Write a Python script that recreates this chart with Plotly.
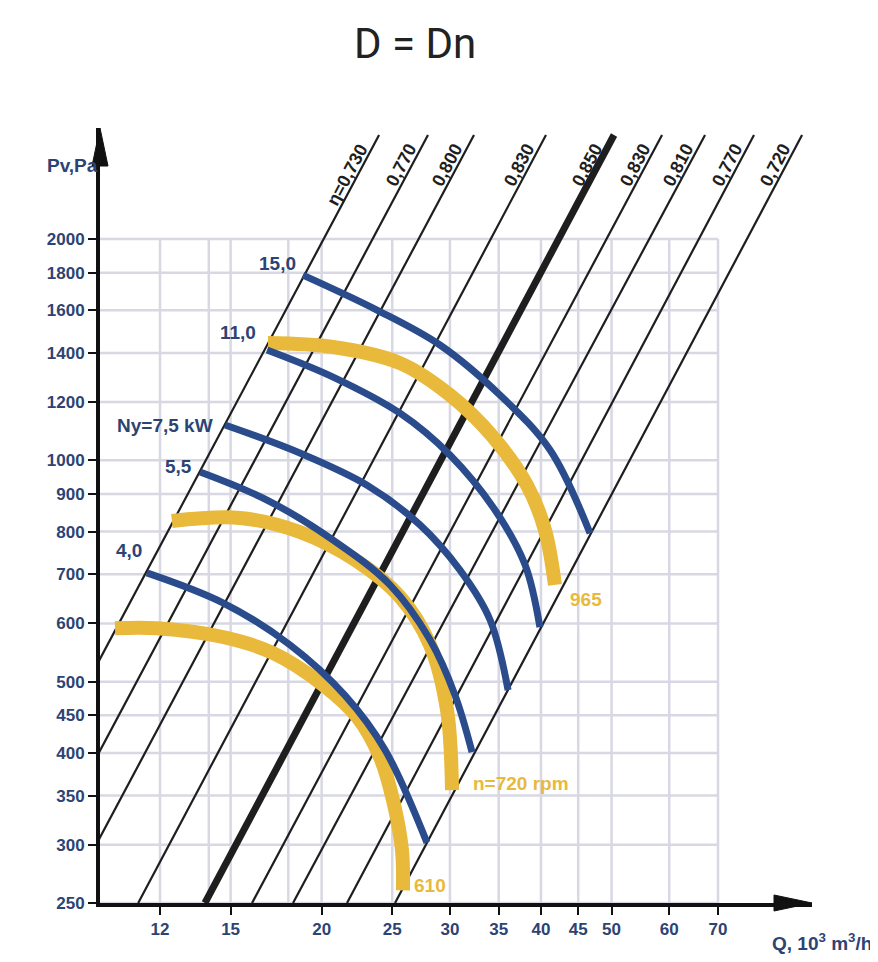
import math
import plotly.graph_objects as go

# ---------------- data ----------------
x_ticks = [12, 15, 20, 25, 30, 35, 40, 45, 50, 60, 70]
x_grid = [12, 14, 15, 18, 20, 25, 30, 35, 40, 45, 50, 60, 70]
y_ticks = [250, 300, 350, 400, 450, 500, 600, 700, 800, 900, 1000, 1200, 1400, 1600, 1800, 2000]

eff_labels = ["η=0,730", "0,770", "0,800", "0,830", "0,850", "0,830", "0,810", "0,770", "0,720"]
eff_q_at_250 = [6.58, 7.68, 8.89, 11.20, 13.83, 16.05, 18.27, 21.67, 25.22]
eff_q_at_2770 = [23.98, 27.99, 32.37, 40.64, 50.39, 58.65, 67.19, 78.43, 91.3]

# power curves (kW)
p150_q = [18.85, 23.82, 29.07, 35.13, 41.17, 46.71]
p150_pv = [1786, 1601, 1435, 1227, 1033, 796]
p110_q = [16.83, 20.74, 25.62, 30.0, 34.59, 38.04, 39.87]
p110_pv = [1413, 1298, 1159, 1017, 856, 721, 593]
p75_q = [14.74, 18.67, 23.09, 27.29, 30.97, 34.05, 36.05]
p75_pv = [1117, 1023, 925, 817, 709, 607, 487]
p55_q = [13.62, 16.83, 20.74, 24.82, 28.17, 30.49, 32.17]
p55_pv = [964, 883, 779, 677, 570, 479, 401]
p40_q = [11.51, 14.64, 18.10, 21.53, 24.43, 27.90]
p40_pv = [703, 640, 561, 479, 404, 302]

# speed curves (rpm)
n965_q = [16.88, 20.74, 25.62, 30.0, 34.38, 38.28, 40.51, 41.81]
n965_pv = [1444, 1426, 1356, 1227, 1076, 925, 804, 677]
n720_q = [12.46, 15.45, 18.67, 22.23, 25.62, 28.17, 29.72, 30.20]
n720_pv = [827, 835, 799, 732, 652, 561, 458, 356]
n610_q = [10.41, 11.89, 14.64, 17.15, 20.09, 22.37, 24.05, 25.06, 25.78, 25.86]
n610_pv = [591, 591, 575, 547, 495, 448, 395, 345, 295, 260]

power_curves = [("15,0", p150_q, p150_pv, -5, 12), ("11,0", p110_q, p110_pv, -9, 17),
                ("Ny=7,5 kW", p75_q, p75_pv, -10, 0), ("5,5", p55_q, p55_pv, -6, 6),
                ("4,0", p40_q, p40_pv, -3, 22)]
speed_curves = [("965", n965_q, n965_pv, 13, -15), ("n=720 rpm", n720_q, n720_pv, 19, 7),
                ("610", n610_q, n610_pv, 9, 5)]

# ---------------- styles ----------------
NAVY = "#2d4373"
BLUE = "#2b4c8c"
YELLOW = "#e9b93c"
GRID = "#d8d8e4"
FONT = "Liberation Sans Narrow, Liberation Sans, Arial, sans-serif"

X_RANGE = [0.9968, 1.9741]
Y_RANGE = [math.log10(250), 3.452]

fig = go.Figure()

# efficiency lines
for lab, qa, qb in zip(eff_labels, eff_q_at_250, eff_q_at_2770):
    thick = lab == "0,850"
    fig.add_trace(go.Scatter(x=[qa, qb], y=[250, 2770], mode="lines",
                             line=dict(color="#1e1e1e", width=7 if thick else 2.2),
                             hoverinfo="skip", showlegend=False))
    t = (math.log10(2744) - math.log10(250)) / (math.log10(2770) - math.log10(250))
    ql = 10 ** (math.log10(qa) + t * (math.log10(qb) - math.log10(qa)))
    fig.add_annotation(x=math.log10(ql), y=math.log10(2744), text=lab, showarrow=False,
                       textangle=-62, xanchor="right", yanchor="top", xshift=-3,
                       font=dict(family=FONT, size=18, color="#1e1e1e", weight="bold"))

for lab, q, pv, xs, ys in speed_curves:
    fig.add_trace(go.Scatter(x=q, y=pv, mode="lines", line=dict(color=YELLOW, width=14, shape="spline"),
                             hoverinfo="skip", showlegend=False))
    fig.add_annotation(x=math.log10(q[-1]), y=math.log10(pv[-1]), text=lab, showarrow=False,
                       xanchor="left", yanchor="middle", xshift=xs, yshift=ys,
                       font=dict(family=FONT, size=19, color=YELLOW, weight="bold"))

for lab, q, pv, xs, ys in power_curves:
    fig.add_trace(go.Scatter(x=q, y=pv, mode="lines", line=dict(color=BLUE, width=7, shape="spline"),
                             hoverinfo="skip", showlegend=False))
    fig.add_annotation(x=math.log10(q[0]), y=math.log10(pv[0]), text=lab, showarrow=False,
                       xanchor="right", yanchor="middle", xshift=xs, yshift=ys,
                       font=dict(family=FONT, size=19, color=NAVY, weight="bold"))

# grid (confined to the box 250..2000 / left..70)
for v in y_ticks:
    fig.add_shape(type="line", xref="paper", x0=0, x1=(math.log10(70) - X_RANGE[0]) / (X_RANGE[1] - X_RANGE[0]),
                  yref="y", y0=v, y1=v, line=dict(color=GRID, width=2.5), layer="below")
for v in x_grid:
    fig.add_shape(type="line", xref="x", x0=v, x1=v, yref="y", y0=250, y1=2000,
                  line=dict(color=GRID, width=2.5), layer="below")

# axis arrows
fig.add_shape(type="path", xref="paper", yref="paper", xsizemode="pixel", ysizemode="pixel",
              xanchor=0, yanchor=1, path="M -8,-38 L 0,0 L 8,-38 Z",
              fillcolor="#111", line=dict(color="#111", width=1))
fig.add_shape(type="path", xref="paper", yref="paper", xsizemode="pixel", ysizemode="pixel",
              xanchor=1, yanchor=0, path="M -38,8 L 0,0 L -38,-8 Z",
              fillcolor="#111", line=dict(color="#111", width=1))

# texts (paper coords relative to plot area 712 x 775 px)
fig.add_annotation(xref="paper", yref="paper", x=0.442, y=(903 - 44) / 775, text="D = Dn",
                   xanchor="center", yanchor="middle", showarrow=False,
                   font=dict(family="Roboto, sans-serif", size=42, color="#222"))
fig.add_annotation(xref="paper", yref="paper", x=-0.039, y=(903 - 165) / 775, text="Pv,Pa",
                   xanchor="center", yanchor="middle", showarrow=False,
                   font=dict(family=FONT, size=19, color=NAVY, weight="bold"))
fig.add_annotation(xref="paper", yref="paper", x=(874 - 100) / 712, y=(903 - 942) / 775,
                   text="Q, 10<sup>3</sup> m<sup>3</sup>/h", xanchor="right", yanchor="middle",
                   showarrow=False, font=dict(family=FONT, size=19, color=NAVY, weight="bold"))

fig.update_xaxes(type="log", range=X_RANGE, tickvals=x_ticks, ticktext=[str(v) for v in x_ticks],
                 showgrid=False, zeroline=False, showline=True, linecolor="#111", linewidth=4,
                 ticks="outside", ticklen=8, tickwidth=2, tickcolor="#111",
                 tickfont=dict(family=FONT, size=17, color=NAVY, weight="bold"))
fig.update_yaxes(type="log", range=Y_RANGE, tickvals=y_ticks, ticktext=[str(v) for v in y_ticks],
                 showgrid=False, zeroline=False, showline=True, linecolor="#111", linewidth=4,
                 ticks="outside", ticklen=8, tickwidth=2, tickcolor="#111",
                 tickfont=dict(family=FONT, size=17, color=NAVY, weight="bold"))

# page body adds an 8px offset; compensate so the plot area lands at 100..812 x 128..903
fig.update_layout(width=870, height=954, margin=dict(l=92, r=66, t=120, b=59),
                  plot_bgcolor="white", paper_bgcolor="white", showlegend=False)

fig.write_html("out.html")
